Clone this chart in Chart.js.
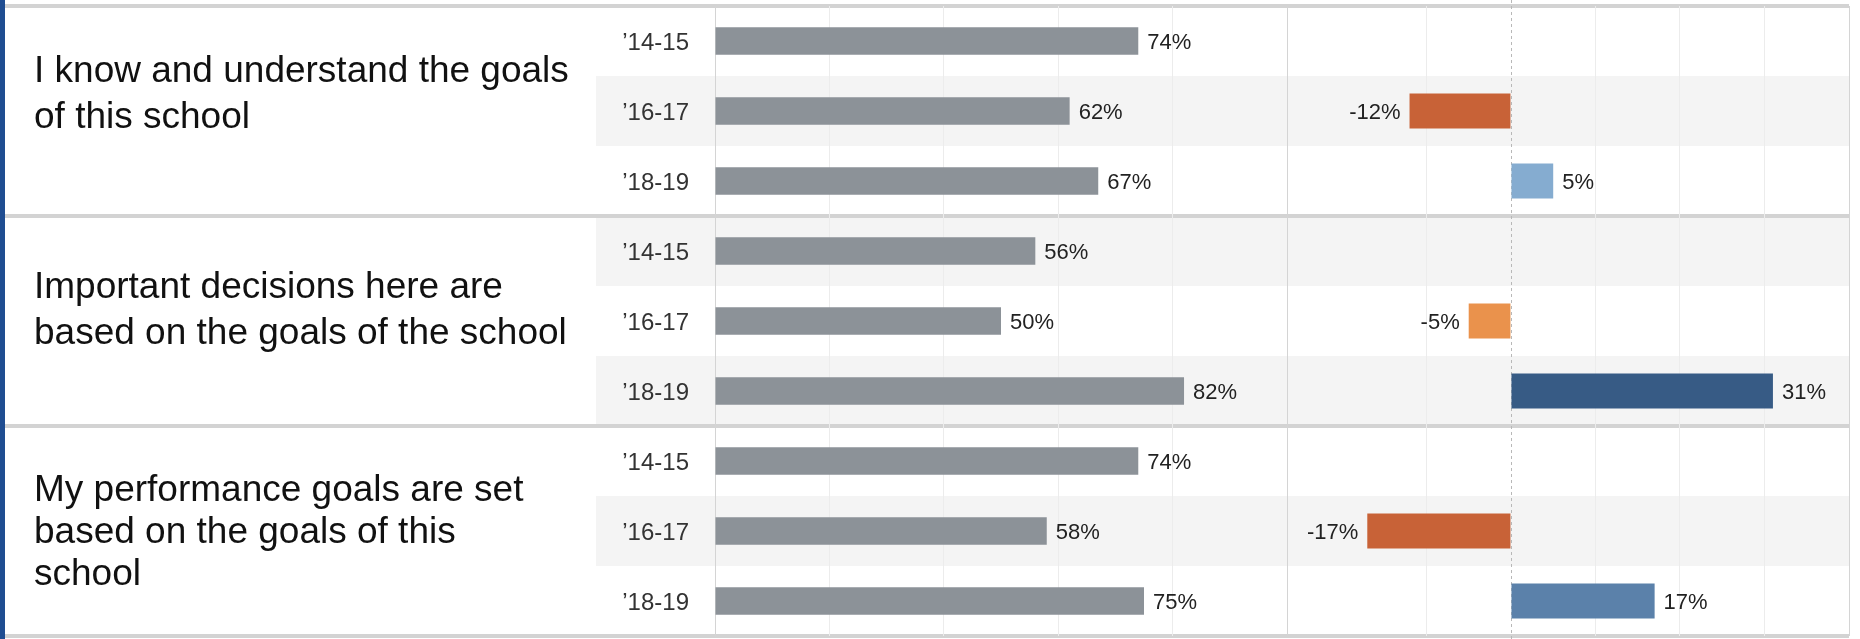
<!DOCTYPE html>
<html>
<head>
<meta charset="utf-8">
<title>School goals survey</title>
<script src="https://cdn.jsdelivr.net/npm/chart.js@4.4.1/dist/chart.umd.min.js"></script>
<style>
  html, body { margin: 0; padding: 0; background: #fff; }
  #wrap { position: relative; width: 1860px; height: 639px; overflow: hidden; }
  #goalsChart { position: absolute; left: 0; top: 0; }
  #edge { position: absolute; left: 0; top: 0; width: 5px; height: 639px; background: #1f4d91; }
  .question {
    position: absolute; left: 34px;
    font-family: "Liberation Sans", Arial, sans-serif;
    font-size: 37px; line-height: 46px; color: #111;
  }
</style>
</head>
<body>
<div id="wrap">
  <canvas id="goalsChart" width="1860" height="639"></canvas>
  <div id="edge"></div>
  <div class="question" style="top:47px">I know and understand the goals<br>of this school</div>
  <div class="question" style="top:263px">Important decisions here are<br>based on the goals of the school</div>
  <div class="question" style="top:468px;line-height:42px">My performance goals are set<br>based on the goals of this<br>school</div>
</div>
<script>
// survey data
const questions = [
    "I know and understand the goals of this school",
    "Important decisions here are based on the goals of the school",
    "My performance goals are set based on the goals of this school"
];
const years = ["’14-15", "’16-17", "’18-19"];
const agreePct = [74, 62, 67, 56, 50, 82, 74, 58, 75];
const changePct = [null, -12, 5, null, -5, 31, null, -17, 17];

const labelFont = "'Liberation Sans', Arial, sans-serif";

// one row per question/year pair
const rowLabels = [];
questions.forEach(() => years.forEach(y => rowLabels.push(y)));

function changeColor(v) {
    if (v === null || v === undefined) return "transparent";
    if (v <= -10) return "#c86237";
    if (v < 0) return "#ea924c";
    if (v >= 25) return "#375b85";
    if (v >= 10) return "#5b81aa";
    return "#85acd0";
}

// row bands, group separators and the dashed zero line
const panelPlugin = {
    id: "panels",
    beforeDraw(chart) {
        const ctx = chart.ctx;
        const y = chart.scales.y;
        const area = chart.chartArea;
        const rowH = y.height / rowLabels.length;
        ctx.save();
        ctx.fillStyle = "#f4f4f4";
        rowLabels.forEach((_, i) => {
            if (i % 2 === 1) {
                const top = y.getPixelForValue(i) - rowH / 2;
                ctx.fillRect(596, top, area.right - 596, rowH);
            }
        });
        ctx.strokeStyle = "#d3d3d3";
        ctx.lineWidth = 4;
        for (let g = 0; g <= questions.length; g++) {
            const yy = Math.round(area.top + g * years.length * rowH);
            ctx.beginPath();
            ctx.moveTo(5, yy);
            ctx.lineTo(area.right, yy);
            ctx.stroke();
        }
        ctx.restore();
    },
    beforeDatasetsDraw(chart) {
        const ctx = chart.ctx;
        const x0 = Math.round(chart.scales.x2.getPixelForValue(0)) + 0.5;
        ctx.save();
        ctx.strokeStyle = "#b8b8b8";
        ctx.lineWidth = 1;
        ctx.setLineDash([3, 3]);
        ctx.beginPath();
        ctx.moveTo(x0, 0);
        ctx.lineTo(x0, chart.height);
        ctx.stroke();
        ctx.restore();
    }
};

// percentage labels at the bar ends
const valueLabels = {
    id: "valueLabels",
    afterDatasetsDraw(chart) {
        const ctx = chart.ctx;
        ctx.save();
        ctx.font = "22px " + labelFont;
        ctx.fillStyle = "#222";
        ctx.textBaseline = "middle";
        chart.data.datasets.forEach((ds, di) => {
            chart.getDatasetMeta(di).data.forEach((bar, i) => {
                const v = ds.data[i];
                if (v === null) return;
                const neg = v < 0;
                ctx.textAlign = neg ? "right" : "left";
                ctx.fillText(v + "%", bar.x + (neg ? -9 : 9), bar.y + 2);
            });
        });
        ctx.restore();
    }
};

const ctx = document.getElementById("goalsChart").getContext("2d");
new Chart(ctx, {
    type: "bar",
    data: {
        labels: rowLabels,
        datasets: [
            {
                label: "Agree",
                data: agreePct,
                xAxisID: "x",
                backgroundColor: "#8c9298",
                barPercentage: 0.39,
                categoryPercentage: 1,
                grouped: false
            },
            {
                label: "Change",
                data: changePct,
                xAxisID: "x2",
                backgroundColor: c => changeColor(c.raw),
                barPercentage: 0.5,
                categoryPercentage: 1,
                grouped: false
            }
        ]
    },
    options: {
        indexAxis: "y",
        responsive: false,
        animation: false,
        layout: { padding: { top: 6, bottom: 3, left: 0, right: 11 } },
        plugins: {
            legend: { display: false },
            tooltip: { enabled: false }
        },
        scales: {
            y: {
                position: "left",
                afterFit: s => {
                    s.width = 715;
                    s.paddingTop = 0;
                    s.paddingBottom = 0;
                },
                grid: { display: false },
                border: { display: true, color: "#d4d4d4" },
                ticks: {
                    padding: 18,
                    labelOffset: 2,
                    color: "#333",
                    font: { family: labelFont, size: 24 }
                }
            },
            x: {
                position: "bottom",
                stack: "panels",
                stackWeight: 572,
                min: 0,
                max: 100,
                afterFit: s => { s.height = 0; },
                ticks: { display: false, stepSize: 20 },
                grid: {
                    drawTicks: false,
                    color: c => (c.tick && (c.tick.value === 0 || c.tick.value === 100)) ? "#d4d4d4" : "#ececec"
                },
                border: { display: false }
            },
            x2: {
                position: "bottom",
                stack: "panels",
                stackWeight: 562,
                min: -26.5,
                max: 40,
                afterFit: s => { s.height = 0; },
                ticks: { display: false, stepSize: 10 },
                grid: {
                    drawTicks: false,
                    color: c => {
                        if (!c.tick) return "#ececec";
                        if (c.tick.value === 0) return "rgba(0,0,0,0)";
                        if (c.tick.value === -26.5 || c.tick.value === 40) return "#d4d4d4";
                        return "#ececec";
                    }
                },
                border: { display: false }
            }
        }
    },
    plugins: [panelPlugin, valueLabels]
});
</script>
</body>
</html>
